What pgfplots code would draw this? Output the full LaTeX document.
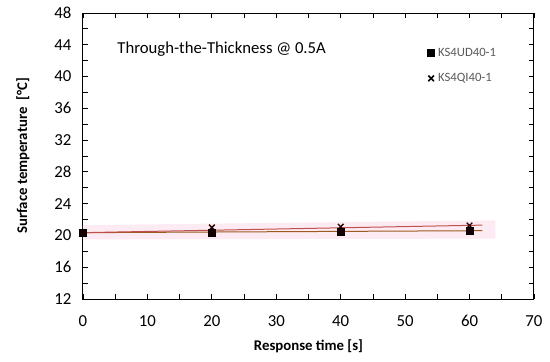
\documentclass[border=0pt]{standalone}
\usepackage{pgfplots}
\pgfplotsset{compat=1.18}
\usepackage{fontspec}
\setmainfont{Carlito}
\definecolor{trendA}{HTML}{9C5A1E}
\definecolor{trendB}{HTML}{C0504D}
\definecolor{bandpink}{HTML}{FDEBF3}
\definecolor{legtext}{HTML}{595959}
\begin{document}
\begin{tikzpicture}
\useasboundingbox (-83pt,-63pt) rectangle (467pt,299pt);
\begin{axis}[
  scale only axis,
  width=451pt, height=286pt,
  xmin=0, xmax=70, ymin=12, ymax=48,
  xtick={0,10,...,70}, minor xtick={5,15,...,65},
  ytick={12,16,...,48}, minor ytick={14,18,...,46},
  tick align=inside,
  major tick length=5pt, minor tick length=5pt,
  tick style={black, line width=0.8pt},
  axis line style={black, line width=1pt},
  ticklabel style={font=\fontsize{16.8}{18}\selectfont},
  xticklabel style={yshift=-13pt},
  yticklabel style={xshift=-8pt},
  /pgf/number format/assume math mode=true,
  xlabel={\bfseries Response time [s]},
  ylabel={\bfseries Surface temperature\ \ [\textdegree C]},
  label style={font=\fontsize{14.8}{16}\selectfont},
  xlabel style={yshift=-6pt},
  ylabel style={yshift=18pt},
  clip=false,
]
\addplot[fill=bandpink, draw=none, forget plot] coordinates {(0,19.5) (64,19.6) (64,21.9) (0,21.3)} -- cycle;
\addplot[trendA, line width=1pt, forget plot] coordinates {(0,20.35) (62,20.6)};
\addplot[trendB, line width=1pt, forget plot] coordinates {(0,20.35) (62,21.3)};
\addplot[only marks, mark=x, mark size=4pt, black!85!red, line width=1.3pt, forget plot] coordinates {(0,20.4) (20,21.0) (40,21.1) (60,21.25)};
\addplot[only marks, mark=square*, mark size=3.5pt, black, mark options={fill=black!90!red}, forget plot] coordinates {(0,20.4) (20,20.35) (40,20.45) (60,20.55)};
\end{axis}
\begin{axis}[
  scale only axis, width=451pt, height=286pt,
  xmin=0, xmax=70, ymin=12, ymax=48, hide axis,
  legend style={at={(0.757,0.893)}, anchor=north west, draw=none, fill=none,
    font=\fontsize{12.7}{15}\selectfont\color{legtext}, row sep=12pt,
    /tikz/every odd column/.append style={column sep=1.5pt}},
  legend cell align=left,
]
\addlegendimage{only marks, mark=square*, mark size=3.5pt, black}
\addlegendentry{KS4UD40-1}
\addlegendimage{only marks, mark=x, mark size=4pt, black, line width=1.6pt}
\addlegendentry{KS4QI40-1}
\node[anchor=west, font=\fontsize{16.7}{18}\selectfont] at (axis cs:4.8,43.5) {Through-the-Thickness @ 0.5A};
\end{axis}
\end{tikzpicture}
\end{document}
